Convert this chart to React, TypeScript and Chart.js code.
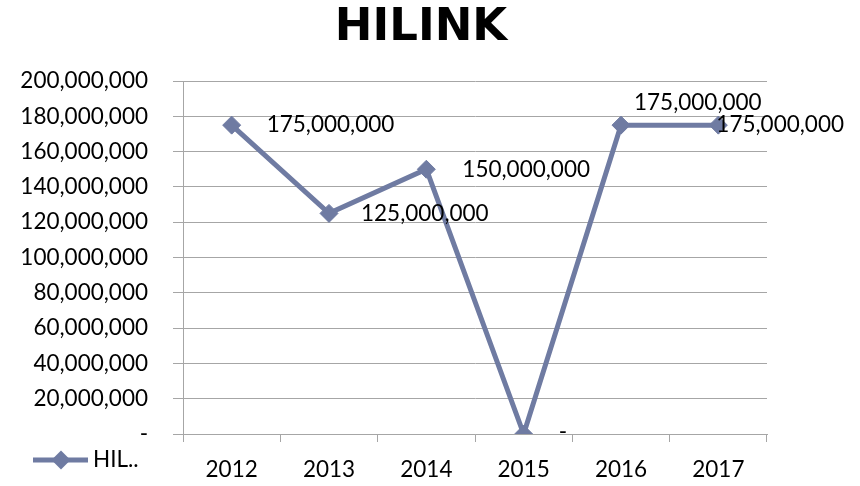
import React, { useEffect, useRef } from 'react';
import { Chart, registerables } from 'chart.js';

Chart.register(...registerables);

const title = 'HILINK';
const categories = ['2012', '2013', '2014', '2015', '2016', '2017'];
const seriesName = 'HIL..';
const values = [175000000, 125000000, 150000000, 0, 175000000, 175000000];
const yMin = 0;
const yMax = 200000000;
const yStep = 20000000;

const LINE_COLOR = '#6f7ba2';
const GRID_COLOR = '#a6a6a6';
const FONT_FAMILY = 'Lato, "Open Sans", sans-serif';
const FONT_SIZE = 22.5;

const fmt = (v: number) => (v === 0 ? '-' : v.toLocaleString('en-US'));

const titlePlugin = {
  id: 'customTitle',
  afterDraw(chart: any, _args: any, opts: any) {
    const ctx = chart.ctx;
    ctx.save();
    ctx.font = 'bold 45px "DejaVu Sans", sans-serif';
    ctx.fillStyle = '#000';
    ctx.textAlign = 'center';
    ctx.textBaseline = 'middle';
    ctx.fillText(opts.text, opts.x, opts.y);
    ctx.restore();
  },
};

const pointLabelPlugin = {
  id: 'pointLabels',
  afterDatasetsDraw(chart: any, _args: any, opts: any) {
    const ctx = chart.ctx;
    const meta = chart.getDatasetMeta(0);
    const data = chart.data.datasets[0].data as number[];
    ctx.save();
    ctx.font = `${FONT_SIZE}px ${FONT_FAMILY}`;
    ctx.fillStyle = '#000';
    ctx.textAlign = 'left';
    ctx.textBaseline = 'middle';
    meta.data.forEach((pt: any, i: number) => {
      const off = (opts.offsets && opts.offsets[i]) || [34, 0];
      ctx.fillText(fmt(data[i]), pt.x + off[0], pt.y + off[1]);
    });
    ctx.restore();
  },
};

const customLegendPlugin = {
  id: 'customLegend',
  afterDraw(chart: any, _args: any, opts: any) {
    const ctx = chart.ctx;
    const ds = chart.data.datasets[0];
    const x0 = opts.x;
    const y = opts.y;
    ctx.save();
    ctx.strokeStyle = ds.borderColor;
    ctx.lineWidth = 5;
    ctx.beginPath();
    ctx.moveTo(x0, y);
    ctx.lineTo(x0 + 55, y);
    ctx.stroke();
    const cx = x0 + 28;
    const r = 9.5;
    ctx.fillStyle = ds.borderColor;
    ctx.beginPath();
    ctx.moveTo(cx, y - r);
    ctx.lineTo(cx + r, y);
    ctx.lineTo(cx, y + r);
    ctx.lineTo(cx - r, y);
    ctx.closePath();
    ctx.fill();
    ctx.font = `${FONT_SIZE}px ${FONT_FAMILY}`;
    ctx.fillStyle = '#000';
    ctx.textAlign = 'left';
    ctx.textBaseline = 'middle';
    ctx.fillText(ds.label, x0 + 60, y);
    ctx.restore();
  },
};

export default function App() {
  const canvasRef = useRef<HTMLCanvasElement | null>(null);

  useEffect(() => {
    document.body.style.margin = '0';
    const canvas = canvasRef.current;
    if (!canvas) return;
    const chart = new Chart(canvas, {
      type: 'line',
      data: {
        labels: categories,
        datasets: [
          {
            label: seriesName,
            data: values,
            borderColor: LINE_COLOR,
            backgroundColor: LINE_COLOR,
            borderWidth: 5,
            pointStyle: 'rectRot',
            pointRadius: 9,
            pointBorderWidth: 1,
            pointBackgroundColor: LINE_COLOR,
            pointBorderColor: LINE_COLOR,
            tension: 0,
            fill: false,
          },
        ],
      },
      options: {
        responsive: false,
        animation: false,
        layout: { padding: { left: 0, right: 93, top: 81, bottom: 0 } },
        plugins: {
          legend: { display: false },
          tooltip: { enabled: false },
          title: { display: false },
          customTitle: { text: title, x: 421, y: 28 },
          pointLabels: {
            offsets: [
              [35, 0],
              [32, 0],
              [36, 0],
              [35, -2],
              [13, -22],
              [-2, 0],
            ],
          },
          customLegend: { x: 33, y: 460 },
        } as any,
        scales: {
          x: {
            type: 'category',
            offset: true,
            grid: {
              offset: true,
              drawOnChartArea: false,
              drawTicks: true,
              tickLength: 8,
              color: GRID_COLOR,
            },
            border: { color: GRID_COLOR },
            ticks: {
              color: '#000',
              padding: 14,
              font: { family: FONT_FAMILY, size: FONT_SIZE },
              maxRotation: 0,
            },
            afterFit: (scale: any) => {
              scale.height = 52;
            },
          },
          y: {
            min: yMin,
            max: yMax,
            grid: {
              color: GRID_COLOR,
              tickLength: 10,
            },
            border: { color: GRID_COLOR },
            ticks: {
              stepSize: yStep,
              color: '#000',
              padding: 25,
              font: { family: FONT_FAMILY, size: FONT_SIZE },
              callback: (v: any) => fmt(Number(v)),
            },
            afterFit: (scale: any) => {
              scale.width = 183;
            },
          },
        },
      },
      plugins: [titlePlugin, pointLabelPlugin, customLegendPlugin],
    });
    return () => chart.destroy();
  }, []);

  return (
    <div style={{ width: 860, height: 486 }}>
      <canvas ref={canvasRef} width={860} height={486} />
    </div>
  );
}
